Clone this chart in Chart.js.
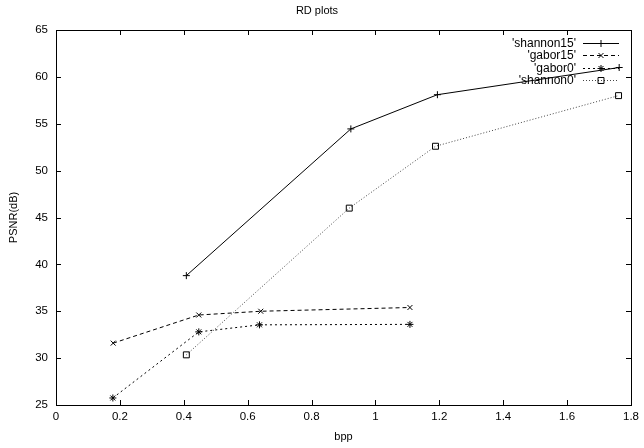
<!DOCTYPE html>
<html>
<head>
<meta charset="utf-8">
<script src="https://cdn.jsdelivr.net/npm/chart.js"></script>
<style>html,body{margin:0;padding:0;background:#fff;}</style>
</head>
<body>
<canvas id="myChart" width="644" height="448"></canvas>
<script>
    // datos
    var seriesNames = ["'shannon15'", "'gabor15'", "'gabor0'", "'shannon0'"];
    var shannon15Bpp = [0.408, 0.923, 1.194, 1.763];
    var shannon15Psnr = [38.8, 54.45, 58.1, 61.0];
    var gabor15Bpp = [0.179, 0.447, 0.641, 1.108];
    var gabor15Psnr = [31.6, 34.6, 35.0, 35.4];
    var gabor0Bpp = [0.178, 0.447, 0.637, 1.108];
    var gabor0Psnr = [25.75, 32.8, 33.55, 33.6];
    var shannon0Bpp = [0.408, 0.918, 1.188, 1.761];
    var shannon0Psnr = [30.35, 46.0, 52.6, 58.0];
    var xTickLabels = ['0', '0.2', '0.4', '0.6', '0.8', '1', '1.2', '1.4', '1.6', '1.8'];
    var yTickLabels = ['25', '30', '35', '40', '45', '50', '55', '60', '65'];

    function toPoints(xs, ys) {
        return xs.map(function (x, i) { return { x: x, y: ys[i] }; });
    }

    var FONT = 'Liberation Sans, Arial, Helvetica, sans-serif';

    // marco completo y marcas hacia dentro, como gnuplot
    var framePlugin = {
        id: 'frame',
        afterDraw: function (chart) {
            var ctx = chart.ctx, a = chart.chartArea;
            ctx.save();
            ctx.strokeStyle = '#000';
            ctx.lineWidth = 1;
            ctx.strokeRect(Math.round(a.left) + 0.5, Math.round(a.top) + 0.5,
                Math.round(a.right - a.left), Math.round(a.bottom - a.top));
            ctx.beginPath();
            chart.scales.x.ticks.forEach(function (t) {
                var px = Math.round(chart.scales.x.getPixelForValue(t.value)) + 0.5;
                ctx.moveTo(px, a.bottom); ctx.lineTo(px, a.bottom - 5);
                ctx.moveTo(px, a.top); ctx.lineTo(px, a.top + 5);
            });
            chart.scales.y.ticks.forEach(function (t) {
                var py = Math.round(chart.scales.y.getPixelForValue(t.value)) + 0.5;
                ctx.moveTo(a.left, py); ctx.lineTo(a.left + 5, py);
                ctx.moveTo(a.right, py); ctx.lineTo(a.right - 5, py);
            });
            ctx.stroke();

            // leyenda arriba a la derecha
            ctx.font = '12px ' + FONT;
            ctx.textAlign = 'right';
            ctx.textBaseline = 'middle';
            chart.data.datasets.forEach(function (ds, i) {
                var y = Math.round(a.top + 12.5 + 12.5 * i) + 0.5;
                ctx.fillStyle = '#000';
                ctx.fillText(ds.label, 576, y);
                ctx.strokeStyle = ds.borderColor;
                ctx.lineWidth = 1;
                ctx.setLineDash(ds.borderDash || []);
                ctx.beginPath();
                ctx.moveTo(583, y); ctx.lineTo(619, y);
                ctx.stroke();
                ctx.setLineDash([]);
                ctx.strokeStyle = '#000';
                ctx.fillStyle = 'rgba(0,0,0,0)';
                Chart.helpers.drawPoint(ctx, {
                    pointStyle: ds.pointStyle, radius: ds.pointRadius,
                    rotation: 0, borderWidth: 1
                }, 601, y);
            });
            ctx.restore();
        }
    };

    var ctx = document.getElementById('myChart').getContext('2d');
    var myChart = new Chart(ctx, {
        type: 'scatter',
        data: {
            datasets: [{
                label: seriesNames[0],
                data: toPoints(shannon15Bpp, shannon15Psnr),
                showLine: true,
                borderColor: '#000',
                borderWidth: 1,
                pointStyle: 'cross',
                pointRadius: 3.5,
                pointBorderColor: '#000',
                pointBackgroundColor: 'rgba(0,0,0,0)'
            }, {
                label: seriesNames[1],
                data: toPoints(gabor15Bpp, gabor15Psnr),
                showLine: true,
                borderColor: '#000',
                borderWidth: 1,
                borderDash: [4, 3],
                pointStyle: 'crossRot',
                pointRadius: 3.5,
                pointBorderColor: '#000',
                pointBackgroundColor: 'rgba(0,0,0,0)'
            }, {
                label: seriesNames[2],
                data: toPoints(gabor0Bpp, gabor0Psnr),
                showLine: true,
                borderColor: '#000',
                borderWidth: 1,
                borderDash: [2, 3],
                pointStyle: 'star',
                pointRadius: 3.5,
                pointBorderColor: '#000',
                pointBackgroundColor: 'rgba(0,0,0,0)'
            }, {
                label: seriesNames[3],
                data: toPoints(shannon0Bpp, shannon0Psnr),
                showLine: true,
                borderColor: '#444',
                borderWidth: 1,
                borderDash: [1, 2],
                pointStyle: 'rect',
                pointRadius: 4.2,
                pointBorderColor: '#000',
                pointBackgroundColor: 'rgba(0,0,0,0)'
            }]
        },
        options: {
            responsive: false,
            animation: false,
            devicePixelRatio: 1,
            layout: { padding: { left: 0, right: 10, top: 0, bottom: 0 } },
            plugins: {
                legend: { display: false },
                tooltip: { enabled: false },
                title: {
                    display: true,
                    text: 'RD plots',
                    color: '#000',
                    font: { family: FONT, size: 11, weight: 'normal', lineHeight: 1.2 },
                    padding: { top: 4, bottom: 12.8 }
                }
            },
            scales: {
                x: {
                    type: 'linear',
                    min: 0,
                    max: 1.8,
                    border: { display: false },
                    grid: { display: false, drawTicks: false },
                    ticks: {
                        stepSize: 0.2,
                        autoSkip: false,
                        maxRotation: 0,
                        padding: 5,
                        color: '#000',
                        font: { family: FONT, size: 11.5 },
                        callback: function (v, i) { return xTickLabels[i]; }
                    },
                    title: {
                        display: true,
                        text: 'bpp',
                        color: '#000',
                        font: { family: FONT, size: 11, lineHeight: 1.2 },
                        padding: { top: 0, bottom: 4.4 }
                    },
                    afterFit: function (s) { s.height = 43; }
                },
                y: {
                    min: 25,
                    max: 65,
                    border: { display: false },
                    grid: { display: false, drawTicks: false },
                    ticks: {
                        stepSize: 5,
                        padding: 8,
                        color: '#000',
                        font: { family: FONT, size: 11.5 },
                        callback: function (v, i) { return yTickLabels[i]; }
                    },
                    title: {
                        display: true,
                        text: 'PSNR(dB)',
                        color: '#000',
                        font: { family: FONT, size: 11, lineHeight: 1.2 },
                        padding: { top: 7, bottom: 0 }
                    },
                    afterFit: function (s) { s.width = 56; }
                }
            }
        },
        plugins: [framePlugin]
    });
</script>
</body>
</html>
